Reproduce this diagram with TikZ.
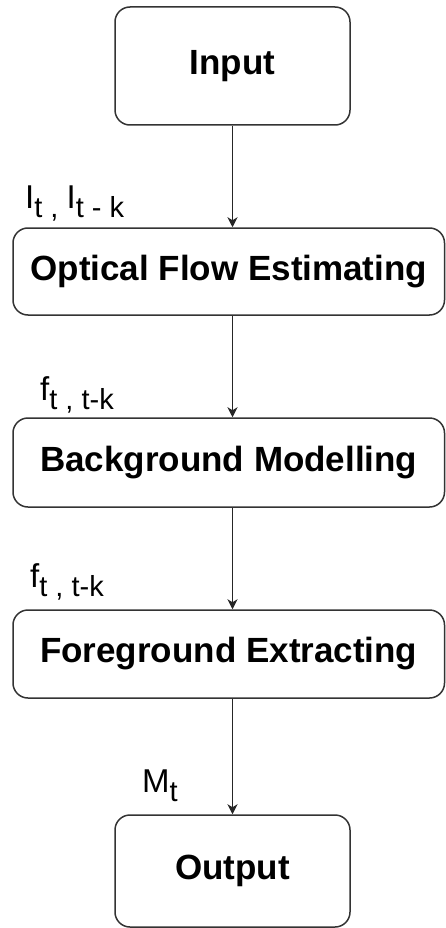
\documentclass[tikz,border=0pt]{standalone}
\usepackage{fontspec}
\setmainfont{Liberation Sans}
\usetikzlibrary{arrows.meta}
% subscript text used in the edge labels
\newcommand{\lowsub}[1]{\raisebox{-9pt}{\fontsize{29}{29}\selectfont #1}}
\tikzset{
  stage/.style={draw=black!80, line width=1.5pt, rounded corners=15pt, fill=white,
    font=\fontsize{35}{40}\selectfont\bfseries, align=center, inner sep=0pt},
  flow/.style={draw=black!85, line width=1.5pt, -{Stealth[length=10pt,width=10pt,inset=3pt]}},
  edgelabel/.style={anchor=base west, inner sep=0pt, font=\fontsize{33}{36}\selectfont}
}
\begin{document}
\begin{tikzpicture}[x=1pt,y=-1pt]
  \useasboundingbox (0,0) rectangle (445,928);
  \node[stage, minimum width=235pt, minimum height=118pt] (in)  at (232.5,66)   {Input};
  \node[stage, minimum width=431.5pt, minimum height=87pt] (opt) at (228.75,271.5) {Optical Flow Estimating};
  \node[stage, minimum width=431.5pt, minimum height=89pt] (bg)  at (228.75,462.5) {Background Modelling};
  \node[stage, minimum width=431.5pt, minimum height=88pt] (fg)  at (228.75,654)   {Foreground Extracting};
  \node[stage, minimum width=235pt, minimum height=112pt] (out) at (232.5,871)  {Output};

  \draw[flow] (in.south) -- (in.south |- opt.north);
  \draw[flow] (in.south |- opt.south) -- (in.south |- bg.north);
  \draw[flow] (in.south |- bg.south) -- (in.south |- fg.north);
  \draw[flow] (in.south |- fg.south) -- (out.north);

  \node[edgelabel] (l1) at (25,208) {I\lowsub{t , }I\lowsub{t - k}};
  \node[edgelabel] (l2) at (40,400) {f\lowsub{t , t-k}};
  \node[edgelabel] (l3) at (30,587) {f\lowsub{t , t-k}};
  \node[edgelabel] (l4) at (142,792) {M\lowsub{t}};
\end{tikzpicture}
\end{document}
